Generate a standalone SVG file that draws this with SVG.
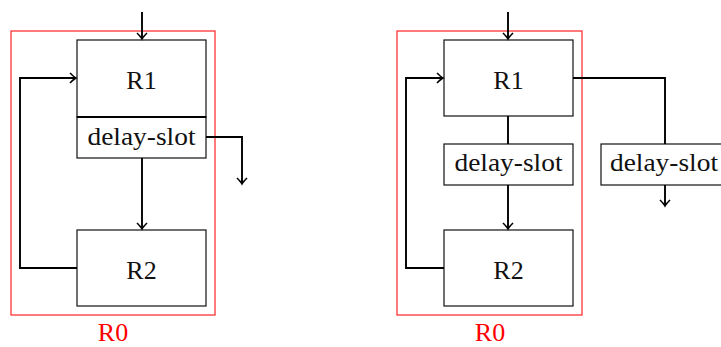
<svg xmlns="http://www.w3.org/2000/svg" width="721" height="347" viewBox="0 0 721 347">
<style>
.box{fill:#fff;stroke:#111;stroke-width:1.2}
.red{fill:none;stroke:#f22;stroke-width:1.2}
.c{fill:none;stroke:#000;stroke-width:1.9}
.t{font-family:"Liberation Serif","DejaVu Serif",serif;font-size:26px;fill:#111;text-anchor:middle}
.r{fill:#f00}
</style>
<defs>
<marker id="a" viewBox="-8 -6 10 12" markerWidth="10" markerHeight="12" refX="0" refY="0" orient="auto" markerUnits="userSpaceOnUse">
<path d="M-6,-5 Q-2,-1 0,0 Q-2,1 -6,5" fill="none" stroke="#000" stroke-width="1.6"/>
</marker>
</defs>
<g id="left">
<g id="R0a"><rect class="red" x="11" y="31" width="204" height="284"/><text class="t r" x="113" y="341">R0</text></g>
<g id="R1a"><rect class="box" x="77" y="40" width="129" height="77"/><text class="t" x="141.5" y="89">R1</text></g>
<g id="DSa"><rect class="box" x="77" y="117" width="129" height="41"/><line x1="77" y1="117" x2="206" y2="117" stroke="#000" stroke-width="2.2"/><text class="t" x="141.5" y="145" textLength="108" lengthAdjust="spacingAndGlyphs">delay-slot</text></g>
<g id="R2a"><rect class="box" x="77" y="230" width="129" height="76"/><text class="t" x="141.5" y="279">R2</text></g>
</g>
<g id="right">
<g id="R0b"><rect class="red" x="397" y="31" width="185" height="284"/><text class="t r" x="490" y="341">R0</text></g>
<g id="R1b"><rect class="box" x="444" y="40" width="129" height="76"/><text class="t" x="508.5" y="89">R1</text></g>
<g id="DSb"><rect class="box" x="444" y="144" width="129" height="41"/><text class="t" x="508.5" y="171" textLength="108" lengthAdjust="spacingAndGlyphs">delay-slot</text></g>
<g id="R2b"><rect class="box" x="444" y="230" width="129" height="76"/><text class="t" x="508.5" y="279">R2</text></g>
<g id="DSc"><rect class="box" x="601" y="144" width="125" height="41"/><text class="t" x="664" y="171" textLength="108" lengthAdjust="spacingAndGlyphs">delay-slot</text></g>
</g>
<g id="connectors">
<path class="c" d="M142,12 V39" marker-end="url(#a)"/>
<path class="c" d="M77,268 H20 V78 H76" marker-end="url(#a)"/>
<path class="c" d="M142,158 V229" marker-end="url(#a)"/>
<path class="c" d="M206,137 H242 V184" marker-end="url(#a)"/>
<path class="c" d="M508,12 V39" marker-end="url(#a)"/>
<path class="c" d="M444,268 H406 V78 H443" marker-end="url(#a)"/>
<path class="c" d="M508,116 V144"/>
<path class="c" d="M508,185 V229" marker-end="url(#a)"/>
<path class="c" d="M573,78 H665 V144"/>
<path class="c" d="M665,185 V206" marker-end="url(#a)"/>
</g>
</svg>
